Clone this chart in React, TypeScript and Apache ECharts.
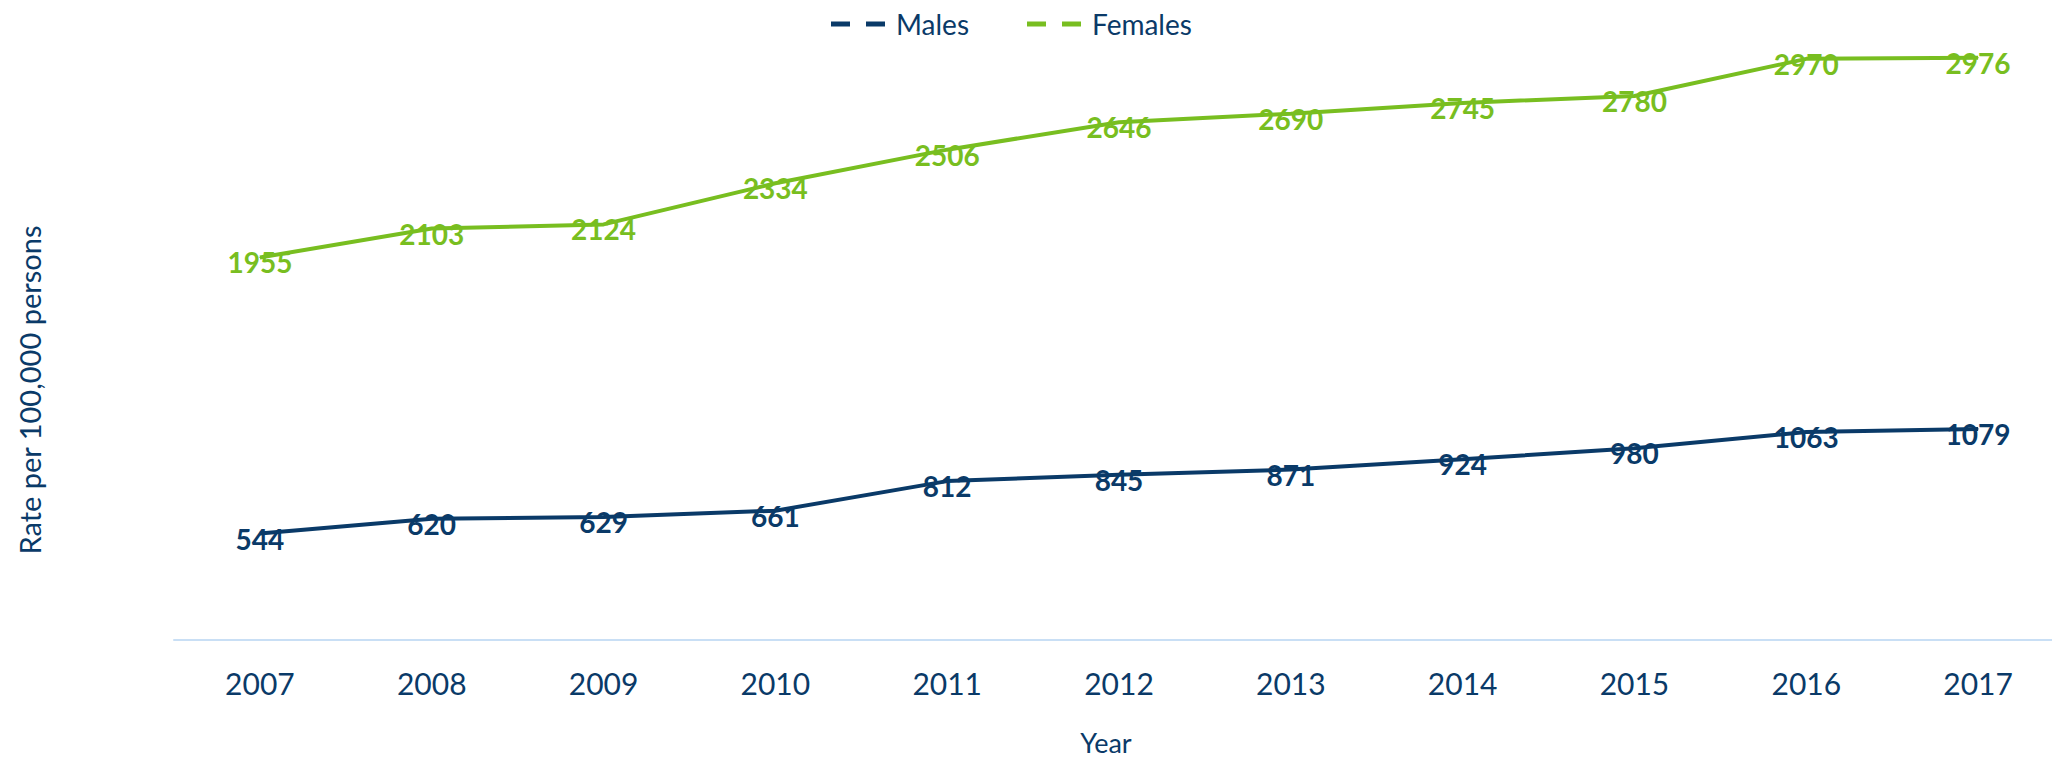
import React, { useEffect, useRef } from "react";
import * as echarts from "echarts";

const years = ["2007", "2008", "2009", "2010", "2011", "2012", "2013", "2014", "2015", "2016", "2017"];
const males = [544, 620, 629, 661, 812, 845, 871, 924, 980, 1063, 1079];
const females = [1955, 2103, 2124, 2334, 2506, 2646, 2690, 2745, 2780, 2970, 2976];

const NAVY = "#0a3a68";
const GREEN = "#78be20";
const FONT = "Lato, 'Open Sans', sans-serif";

export default function App() {
  const ref = useRef<HTMLDivElement>(null);
  useEffect(() => {
    if (!ref.current) return;
    const chart = echarts.init(ref.current, undefined, { renderer: "svg" });
    const mkSeries = (name: string, data: number[], color: string) => ({
      name,
      type: "line",
      data,
      symbol: "circle",
      symbolSize: 1,
      showSymbol: true,
      itemStyle: { color },
      lineStyle: { color, width: 4 },
      label: {
        show: true,
        position: "inside",
        offset: [0, 5],
        color,
        fontFamily: FONT,
        fontWeight: "bold",
        fontSize: 28,
      },
      z: 3,
    });
    chart.setOption({
      animation: false,
      textStyle: { fontFamily: FONT },
      legend: {
        left: 826,
        top: 5,
        itemWidth: 54,
        itemHeight: 5,
        itemGap: 58,
        icon: "path://M0,0H19V5H0Z M35,0H54V5H35Z",
        itemStyle: { borderWidth: 0 },
        textStyle: { color: NAVY, fontSize: 28, fontFamily: FONT, padding: [0, 0, 0, 6] },
        data: ["Males", "Females"],
      },
      grid: { left: 174, right: 6, top: 53, bottom: 757 - 640 },
      xAxis: {
        type: "category",
        data: years,
        boundaryGap: true,
        axisLine: { show: true, lineStyle: { color: "#c9dff5", width: 2 } },
        axisTick: { show: false },
        axisLabel: { color: NAVY, fontSize: 30, fontFamily: FONT, margin: 28 },
      },
      yAxis: {
        type: "value",
        min: 0,
        max: 3000,
        show: true,
        axisLine: { show: false },
        axisTick: { show: false },
        axisLabel: { show: false },
        splitLine: { show: false },
      },
      graphic: [
        {
          type: "text",
          x: 29,
          y: 390,
          rotation: Math.PI / 2,
          style: {
            text: "Rate per 100,000 persons",
            fill: NAVY,
            fontSize: 29,
            fontFamily: FONT,
            textAlign: "center",
            textVerticalAlign: "middle",
          },
        },
        {
          type: "text",
          x: 1106,
          y: 742,
          style: {
            text: "Year",
            fill: NAVY,
            fontSize: 27,
            fontFamily: FONT,
            textAlign: "center",
            textVerticalAlign: "middle",
          },
        },
      ],
      series: [mkSeries("Males", males, NAVY), mkSeries("Females", females, GREEN)],
    });
    return () => chart.dispose();
  }, []);
  return (
    <div style={{ position: "fixed", left: 0, top: 0, width: 2052, height: 757, overflow: "hidden", background: "#fff" }}>
      <div ref={ref} style={{ position: "absolute", left: 0, top: 0, width: 2070, height: 757 }} />
    </div>
  );
}
